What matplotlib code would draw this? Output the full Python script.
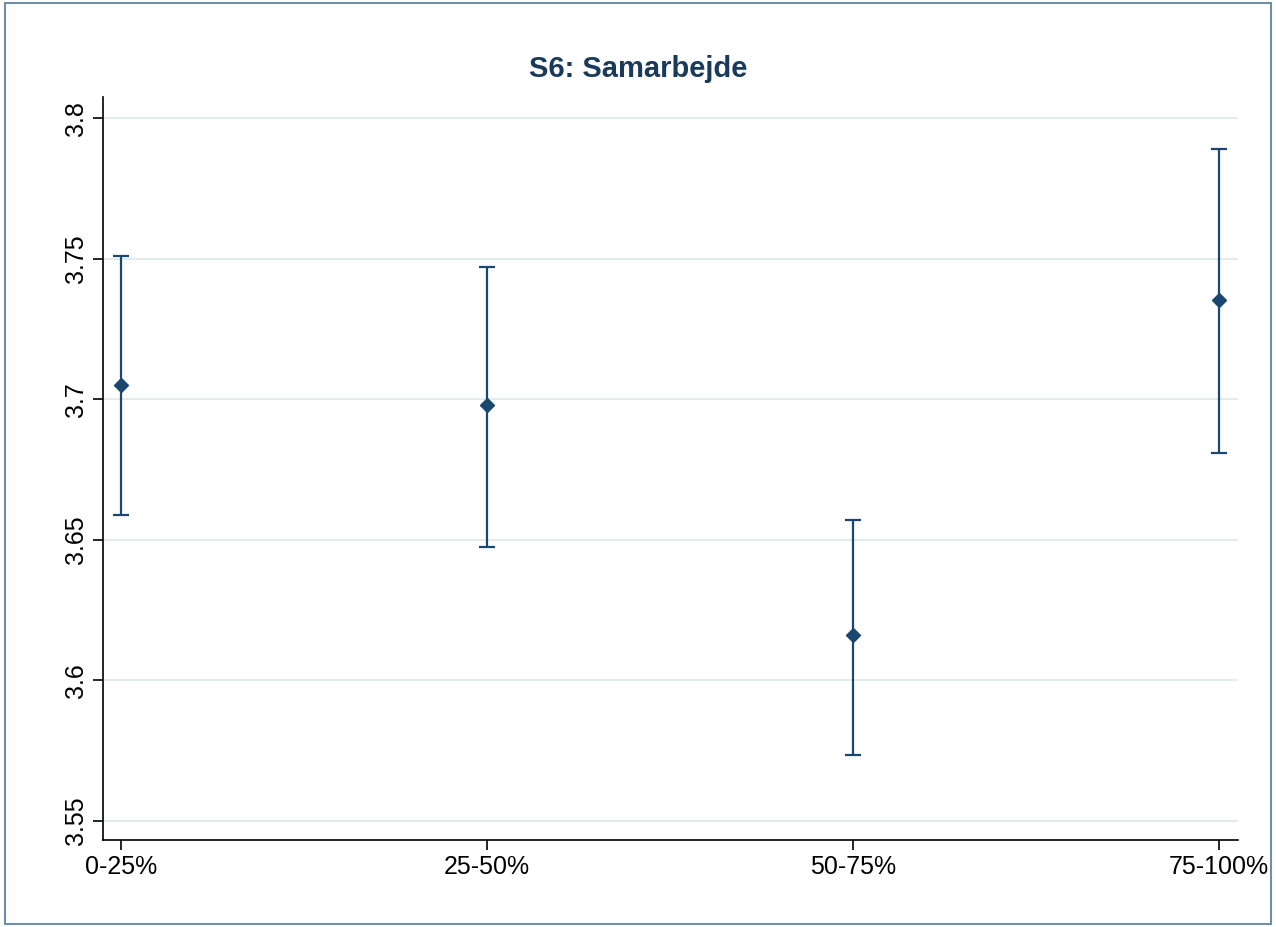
import matplotlib
matplotlib.use("Agg")
import matplotlib.pyplot as plt
from matplotlib.patches import Rectangle

plt.rcParams['font.family'] = ['Liberation Sans', 'DejaVu Sans']

categories = ["0-25%", "25-50%", "50-75%", "75-100%"]
means = [3.705, 3.698, 3.616, 3.7355]
upper = [3.751, 3.747, 3.657, 3.789]
lower = [3.659, 3.6475, 3.5735, 3.681]
yticks = [3.55, 3.6, 3.65, 3.7, 3.75, 3.8]
yticklabels = ["3.55", "3.6", "3.65", "3.7", "3.75", "3.8"]

col = "#1a476f"
fig = plt.figure(figsize=(12.76, 9.27), dpi=100)
fig.patches.append(Rectangle((0.004, 0.003), 0.992, 0.994, transform=fig.transFigure,
                             fill=False, edgecolor="#6f8fa8", linewidth=1.5))
ax = fig.add_axes([0.0807, 0.0939, 0.8893, 0.8011])
x = list(range(len(categories)))
yerr = [[m - l for m, l in zip(means, lower)], [u - m for m, u in zip(means, upper)]]
ax.errorbar(x, means, yerr=yerr, fmt="D", color=col, ms=7, capsize=6, elinewidth=1.6, capthick=1.6)
ax.set_xlim(-0.049, 3.052)
ax.set_ylim(3.5432, 3.8075)
ax.set_yticks(yticks)
ax.set_yticklabels(yticklabels, rotation=90, va="center", fontsize=18)
ax.set_xticks(x)
ax.set_xticklabels(categories, fontsize=18)
ax.yaxis.grid(True, color="#dde9e6", linewidth=1.2)
ax.set_axisbelow(True)
for s in ["top", "right"]:
    ax.spines[s].set_visible(False)
ax.spines["left"].set_linewidth(1.2)
ax.spines["bottom"].set_linewidth(1.2)
ax.tick_params(length=7, width=1.2)
fig.text(0.5, 0.926, "S6: Samarbejde", ha="center", va="center", fontsize=21,
         fontweight="bold", color="#1a3a5c")
fig.savefig("out.png", dpi=100)
